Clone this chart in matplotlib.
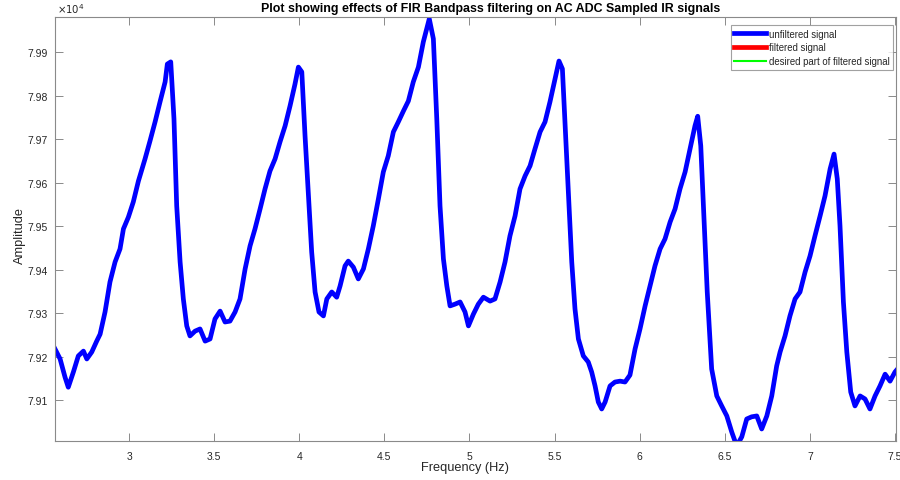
import numpy as np
import matplotlib
matplotlib.use('Agg')
from matplotlib import pyplot as plt

plt.rcParams['font.family'] = ['Liberation Sans', 'DejaVu Sans']

# unfiltered IR signal
freq_hz = [2.565, 2.595, 2.624, 2.643, 2.673, 2.702, 2.732, 2.752, 2.781, 2.810,
           2.830, 2.859, 2.888, 2.918, 2.947, 2.967, 2.996, 3.025, 3.055, 3.094,
           3.123, 3.153, 3.182, 3.212, 3.225, 3.245, 3.264, 3.280, 3.300, 3.319,
           3.339, 3.358, 3.388, 3.417, 3.447, 3.476, 3.505, 3.535, 3.564, 3.593,
           3.623, 3.652, 3.682, 3.711, 3.740, 3.770, 3.799, 3.828, 3.858, 3.887,
           3.917, 3.946, 3.975, 3.995, 4.015, 4.034, 4.053, 4.073, 4.093, 4.116,
           4.142, 4.162, 4.191, 4.220, 4.240, 4.269, 4.288, 4.318, 4.347, 4.377,
           4.406, 4.435, 4.465, 4.494, 4.523, 4.553, 4.582, 4.612, 4.641, 4.670,
           4.700, 4.729, 4.753, 4.764, 4.788, 4.808, 4.827, 4.847, 4.867, 4.886,
           4.915, 4.945, 4.974, 4.994, 5.023, 5.052, 5.082, 5.121, 5.150, 5.180,
           5.209, 5.238, 5.268, 5.297, 5.327, 5.356, 5.385, 5.415, 5.444, 5.473,
           5.503, 5.526, 5.546, 5.562, 5.581, 5.601, 5.620, 5.640, 5.669, 5.698,
           5.718, 5.738, 5.757, 5.777, 5.797, 5.826, 5.855, 5.885, 5.914, 5.943,
           5.973, 6.002, 6.032, 6.061, 6.090, 6.120, 6.149, 6.179, 6.208, 6.237,
           6.267, 6.296, 6.325, 6.341, 6.359, 6.378, 6.397, 6.423, 6.453, 6.482,
           6.512, 6.541, 6.570, 6.600, 6.629, 6.658, 6.688, 6.717, 6.747, 6.776,
           6.805, 6.825, 6.854, 6.883, 6.913, 6.942, 6.972, 7.001, 7.030, 7.060,
           7.089, 7.119, 7.142, 7.161, 7.177, 7.197, 7.217, 7.240, 7.265, 7.295,
           7.324, 7.353, 7.383, 7.412, 7.442, 7.471, 7.500, 7.530]
unfiltered = [79218, 79195, 79153, 79130, 79165, 79202, 79213, 79195, 79211, 79236,
              79252, 79303, 79372, 79418, 79448, 79494, 79521, 79556, 79604, 79655,
              79696, 79740, 79786, 79832, 79873, 79878, 79747, 79547, 79418, 79333,
              79271, 79248, 79259, 79264, 79236, 79241, 79287, 79305, 79280, 79282,
              79303, 79333, 79402, 79455, 79494, 79540, 79586, 79627, 79655, 79694,
              79731, 79777, 79827, 79866, 79855, 79708, 79579, 79441, 79349, 79303,
              79294, 79333, 79349, 79337, 79363, 79409, 79420, 79406, 79379, 79402,
              79448, 79501, 79563, 79625, 79662, 79717, 79740, 79765, 79788, 79832,
              79866, 79924, 79960, 79977, 79931, 79747, 79547, 79425, 79363, 79317,
              79321, 79326, 79303, 79271, 79298, 79321, 79337, 79328, 79333, 79372,
              79418, 79478, 79524, 79586, 79616, 79639, 79678, 79717, 79740, 79786,
              79839, 79880, 79862, 79731, 79579, 79418, 79310, 79241, 79202, 79188,
              79165, 79133, 79096, 79080, 79096, 79133, 79142, 79144, 79142, 79158,
              79218, 79264, 79317, 79363, 79409, 79448, 79471, 79510, 79540, 79586,
              79625, 79678, 79731, 79753, 79685, 79517, 79349, 79172, 79110, 79087,
              79064, 79027, 78995, 79016, 79057, 79062, 79064, 79034, 79064, 79110,
              79179, 79211, 79248, 79294, 79333, 79349, 79395, 79432, 79478, 79524,
              79570, 79632, 79666, 79609, 79501, 79326, 79211, 79119, 79087, 79110,
              79103, 79080, 79110, 79133, 79160, 79144, 79165, 79179]

x_ticks = [3, 3.5, 4, 4.5, 5, 5.5, 6, 6.5, 7, 7.5]
x_tick_labels = ['3', '3.5', '4', '4.5', '5', '5.5', '6', '6.5', '7', '7.5']
y_ticks = [79100, 79200, 79300, 79400, 79500, 79600, 79700, 79800, 79900]
y_tick_labels = ['7.91', '7.92', '7.93', '7.94', '7.95', '7.96', '7.97', '7.98', '7.99']

axis_col = '#8a8a8a'
text_col = '#262626'

fig = plt.figure(figsize=(9, 4.81), dpi=100)
ax = fig.add_axes([55 / 900, 38.7 / 481, 841 / 900, 424 / 481])

ax.plot(freq_hz, unfiltered, color='#0000ff', lw=3.4, label='unfiltered signal',
        solid_joinstyle='round')
ax.plot([], [], color='#ff0000', lw=3.4, label='filtered signal')
ax.plot([], [], color='#00ff00', lw=1.5, label='desired part of filtered signal')

ax.set_xlim(2.565, 7.506)
ax.set_ylim(79005.7, 79980.5)
ax.set_xticks(x_ticks)
ax.set_xticklabels(x_tick_labels)
ax.set_yticks(y_ticks)
ax.set_yticklabels(y_tick_labels)

ax.tick_params(direction='in', length=5.8, width=0.7, color=axis_col,
               labelcolor=text_col, labelsize=7.5, top=True, right=True)
ax.tick_params(axis='x', pad=7)
ax.tick_params(axis='y', pad=5)
for s in ax.spines.values():
    s.set_color(axis_col)
    s.set_linewidth(0.8)

ax.text(0.002, 1.005, r'$\times10^4$', transform=ax.transAxes, ha='left', va='bottom',
        fontsize=7.3, color=text_col)

fig.text(491 / 900, 1 - 9 / 481, 'Plot showing effects of FIR Bandpass filtering on AC ADC Sampled IR signals',
         ha='center', va='center', fontsize=8.9, fontweight='bold', color='black')
fig.text(465 / 900, 1 - 468 / 481, 'Frequency (Hz)', ha='center', va='center',
         fontsize=9.2, color=text_col)
fig.text(20 / 900, 1 - 236 / 481, 'Amplitude', ha='center', va='center',
         rotation=90, fontsize=9.2, color=text_col)

leg = ax.legend(loc='upper right', bbox_to_anchor=(838 / 841, 1 - 8 / 424),
                fontsize=6.9, frameon=True, fancybox=False, borderpad=0.35,
                labelspacing=0.4, handlelength=3.3, handletextpad=0.3,
                borderaxespad=0)
leg.get_frame().set_edgecolor(axis_col)
leg.get_frame().set_linewidth(0.8)
for t in leg.get_texts():
    t.set_color(text_col)

fig.savefig('out.png', dpi=100)
